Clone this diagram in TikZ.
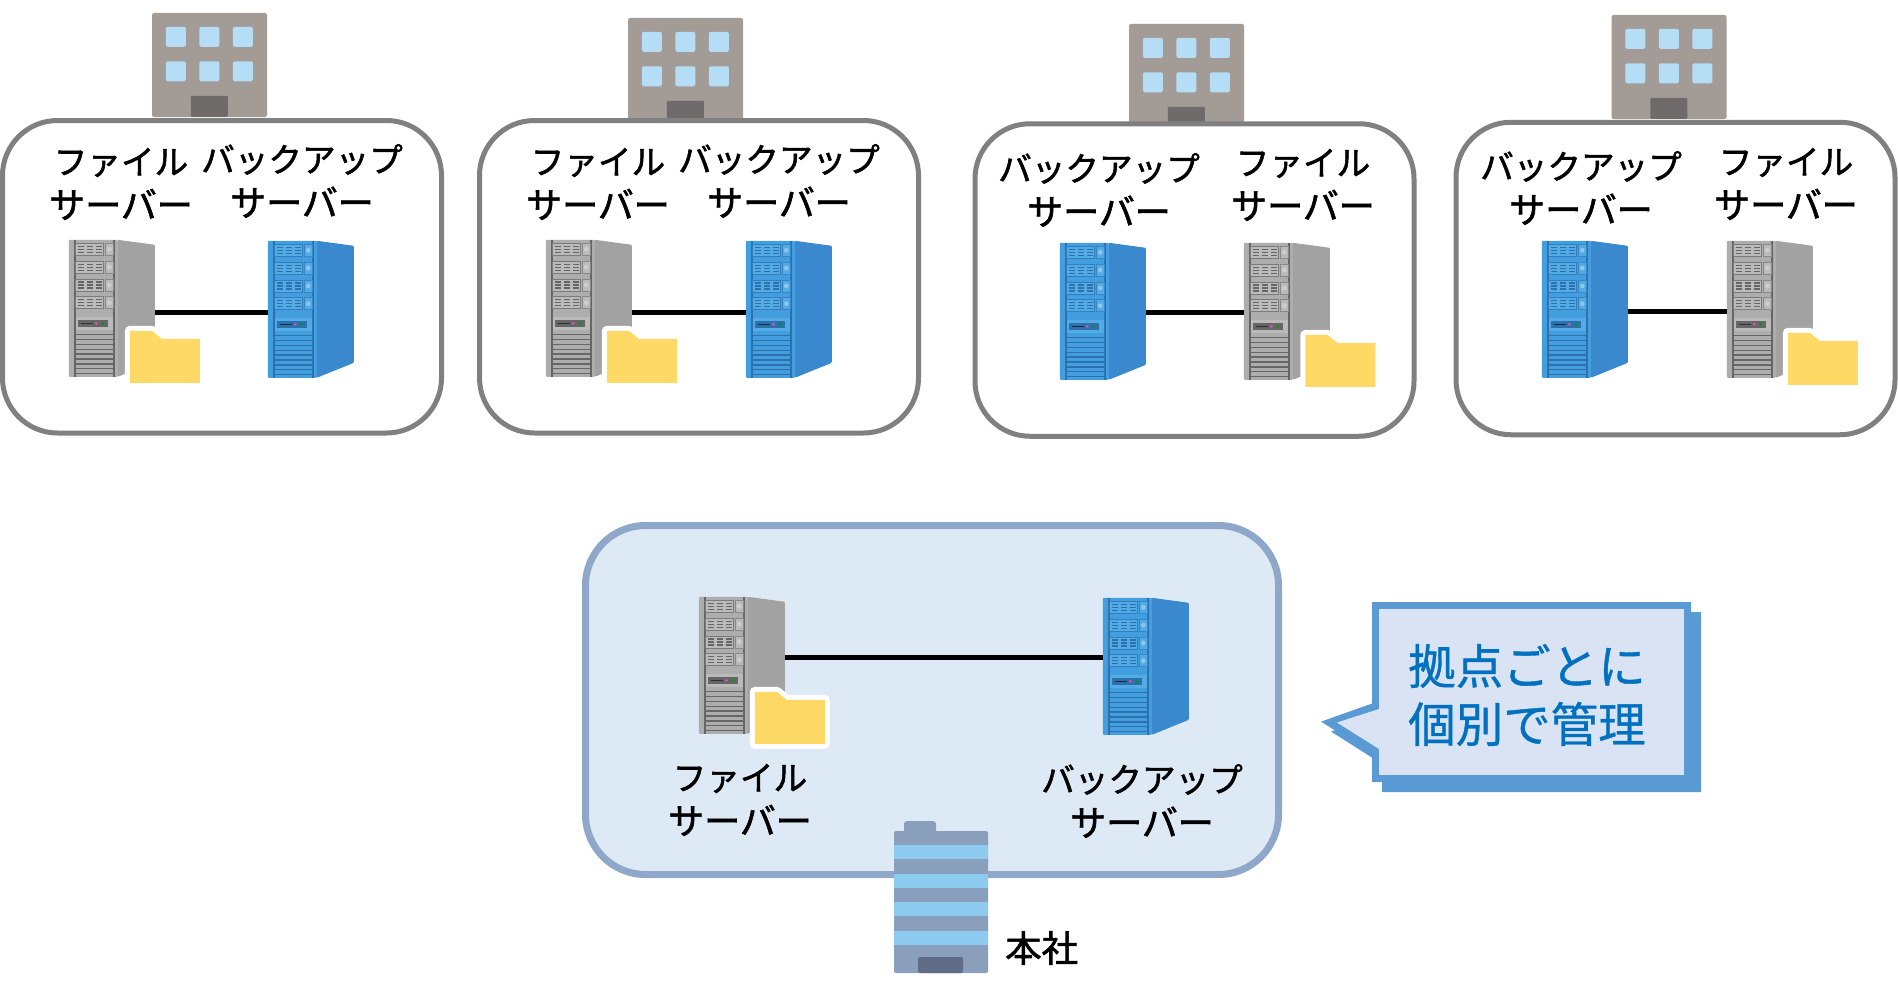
\documentclass[tikz,border=0pt]{standalone}
\usepackage{fontspec}
\setmainfont{Noto Sans CJK JP}
\newfontfamily\lblfont[RawFeature={embolden=1.6}]{Noto Sans CJK JP}
\newfontfamily\notefont[RawFeature={embolden=0.8}]{Noto Sans CJK JP}
\usetikzlibrary{positioning}

\definecolor{grayfront}{HTML}{ADADAD}
\definecolor{grayside}{HTML}{A2A2A2}
\definecolor{graydark}{HTML}{666666}
\definecolor{graylight}{HTML}{BABABA}
\definecolor{bluefront}{HTML}{429EDE}
\definecolor{blueside}{HTML}{3A89CF}
\definecolor{bluedark}{HTML}{2C70AC}
\definecolor{bluelight}{HTML}{52ABE4}
\definecolor{folderfill}{HTML}{FFD966}
\definecolor{officewall}{HTML}{A39B96}
\definecolor{officedoor}{HTML}{6F6B6A}
\definecolor{officeglass}{HTML}{B5DDF5}
\definecolor{towerwall}{HTML}{8A9FBC}
\definecolor{towerglass}{HTML}{8CCAEF}
\definecolor{towerdoor}{HTML}{606C88}
\definecolor{hqedge}{HTML}{8FA8C9}
\definecolor{hqfill}{HTML}{DEE9F6}
\definecolor{calloutedge}{HTML}{5B9BD5}
\definecolor{calloutfill}{HTML}{DAE3F3}
\definecolor{callouttext}{HTML}{0070C0}

\newcommand{\srvword}{{\fontsize{36}{44}\selectfont サーバー}}

\newcommand{\serverunit}[4]{
\node[srvnode] (#1) at (#2+43,#3+68.5) {};
\begin{scope}[shift={(#1.north west)}]
\fill[#4side,rounded corners=1pt] (49,0)--(86,5)--(86,122)--(49,137)--cycle;
\fill[#4front,rounded corners=1pt] (0,0) rectangle (49,137);
\fill[#4dark] (5,0) rectangle (7,137);
\fill[#4dark] (44.5,0) rectangle (46,137);
\foreach \row in {0,1,2,3}{
\begin{scope}[shift={(0,\row*17.8)}]
\draw[#4dark!70!#4front,fill=#4light,line width=0.7pt] (7,3.5) rectangle (35,15.5);
\draw[#4dark!50!#4front,fill=#4light,line width=0.7pt] (36.5,3.5) rectangle (44.5,15.5);
\fill[#4front!60!white] (40.5,9.5) circle (2.4);
\foreach \col in {0,1,2}
\foreach \bar in {6.5,9.5,12.5}
\fill[#4dark] (9.5+\col*8.7,\bar-0.6) rectangle (15.5+\col*8.7,\bar+0.6);
\end{scope}}
\fill[#4light] (7,77) rectangle (44.5,90);
\fill[#4dark] (9,80) rectangle (39,87);
\fill[#4side!30!black] (12,82.9) rectangle (24,84.1);
\fill[magenta!70!white] (27.5,83.5) circle (1.5);
\fill[green!60!black] (34,83.5) circle (1.5);
\foreach \gap in {0,...,8}
\fill[#4dark] (7,94+\gap*4.9) rectangle (44.5,95.3+\gap*4.9);
\end{scope}}

\newcommand{\folderat}[3]{
\node[foldernode] (#1) at (#2+35,#3+26) {};
\path[folderhalo,shift={(#1.north west)}] (0,0)--(22,0)--(32,8)--(70,8)--(70,52)--(0,52)--cycle;
\fill[folderfill,shift={(#1.north west)}] (0,0)--(22,0)--(32,8)--(70,8)--(70,52)--(0,52)--cycle;}

\newcommand{\officeat}[3]{
\node[officenode] (#1) at (#2+57.5,#3+52) {};
\begin{scope}[shift={(#1.north west)}]
\foreach \col in {0,1,2}
\foreach \row in {0,1}
\fill[officeglass,rounded corners=1.5pt] (14+\col*33.5,14+\row*34.5) rectangle (34+\col*33.5,34+\row*34.5);
\fill[officedoor,rounded corners=1pt] (39,83) rectangle (76,104);
\end{scope}}

\begin{document}
\begin{tikzpicture}[x=1pt,y=-1pt,
sitebox/.style={draw=black!50,line width=5pt,fill=white,rounded corners=55pt,minimum width=439pt,minimum height=312.5pt,inner sep=0pt},
hqbox/.style={draw=hqedge,line width=7pt,fill=hqfill,rounded corners=60pt,minimum width=693pt,minimum height=349pt,inner sep=0pt},
srvnode/.style={minimum width=86pt,minimum height=137pt,inner sep=0pt},
foldernode/.style={minimum width=70pt,minimum height=52pt,inner sep=0pt},
folderhalo/.style={fill=white,draw=white,line width=10pt,line join=round},
officenode/.style={fill=officewall,rounded corners=2pt,minimum width=115pt,minimum height=104pt,inner sep=0pt},
wire/.style={line width=5pt,black},
lbl/.style={align=center,inner sep=0pt,font=\lblfont\fontsize{33.6}{44}\selectfont},
calloutlbl/.style={align=left,inner sep=0pt,text=callouttext,font=\notefont\fontsize{47.5}{58}\selectfont}]
\useasboundingbox (0,0) rectangle (1898,990);

\officeat{officeA}{152}{13}
\officeat{officeB}{628}{18}
\officeat{officeC}{1129}{24}
\officeat{officeD}{1611.5}{15}

\foreach \site/\x/\y in {A/222/276.75,B/699/276.75,C/1194.5/280,D/1675.5/278.5}
\node[sitebox] (site\site) at (\x,\y) {};
\node[hqbox] (hq) at (932,700) {};

\serverunit{fileA}{69}{240}{gray}
\serverunit{backA}{268}{241}{blue}
\serverunit{fileB}{546}{240}{gray}
\serverunit{backB}{746}{241}{blue}
\serverunit{backC}{1060}{243}{blue}
\serverunit{fileC}{1244}{243}{gray}
\serverunit{backD}{1542}{241}{blue}
\serverunit{fileD}{1727}{241}{gray}
\serverunit{fileH}{699}{597}{gray}
\serverunit{backH}{1103}{598}{blue}

\draw[wire] ([yshift=-3.5pt]fileA.east)--([yshift=-2.5pt]backA.west);
\draw[wire] ([yshift=-3.5pt]fileB.east)--([yshift=-2.5pt]backB.west);
\draw[wire] ([yshift=-0.5pt]backC.east)--([yshift=-0.5pt]fileC.west);
\draw[wire] ([yshift=-1.5pt]backD.east)--([yshift=-1.5pt]fileD.west);
\draw[wire] ([yshift=8.5pt]fileH.east)--([yshift=9.5pt]backH.west);

\folderat{folderA}{130}{331}
\folderat{folderB}{607}{331}
\folderat{folderC}{1305.5}{335}
\folderat{folderD}{1788}{333}
\folderat{folderH}{755}{692}

\node[lbl] (labelfileA) at (121,184) {ファイル\\\srvword};
\node[lbl] (labelbackA) at (302,181) {バックアップ\\\srvword};
\node[lbl] (labelfileB) at (598,184) {ファイル\\\srvword};
\node[lbl] (labelbackB) at (779,181) {バックアップ\\\srvword};
\node[lbl] (labelbackC) at (1099,190) {バックアップ\\\srvword};
\node[lbl] (labelfileC) at (1303,185) {ファイル\\\srvword};
\node[lbl] (labelbackD) at (1581,188) {バックアップ\\\srvword};
\node[lbl] (labelfileD) at (1786,184) {ファイル\\\srvword};
\node[lbl] (labelfileH) at (740,800) {ファイル\\\srvword};
\node[lbl] (labelbackH) at (1142,801) {バックアップ\\\srvword};

\fill[towerwall,rounded corners=3pt] (904,821) rectangle (936,835);
\node[fill=towerwall,rounded corners=2pt,minimum width=94pt,minimum height=142pt,inner sep=0pt] (tower) at (941,902) {};
\foreach \floor in {0,1,2,3}
\fill[towerglass] (894,845+\floor*28.5) rectangle (988,859+\floor*28.5);
\fill[towerdoor,rounded corners=1.5pt] (918,957) rectangle (963,973);
\node[lbl,anchor=west,font=\lblfont\fontsize{36.5}{44}\selectfont] (labeltower) at (1005,948) {本社};

\foreach \dx in {10,0}
\path[draw=calloutedge,line width=7pt,miter limit=10,fill=calloutedge,shift={(\dx,\dx)}] (1375.5,605.5)--(1687.5,605.5)--(1687.5,778.5)--(1375.5,778.5)--(1375.5,752)--(1329,722.5)--(1375.5,706)--cycle;
\fill[calloutfill] (1379,609) rectangle (1684,775);
\fill[calloutfill] (1379,709)--(1337,722.5)--(1379,749)--cycle;
\node[calloutlbl,anchor=west] (calloutnote) at (1408,695) {拠点ごとに\\個別で管理};
\end{tikzpicture}
\end{document}
